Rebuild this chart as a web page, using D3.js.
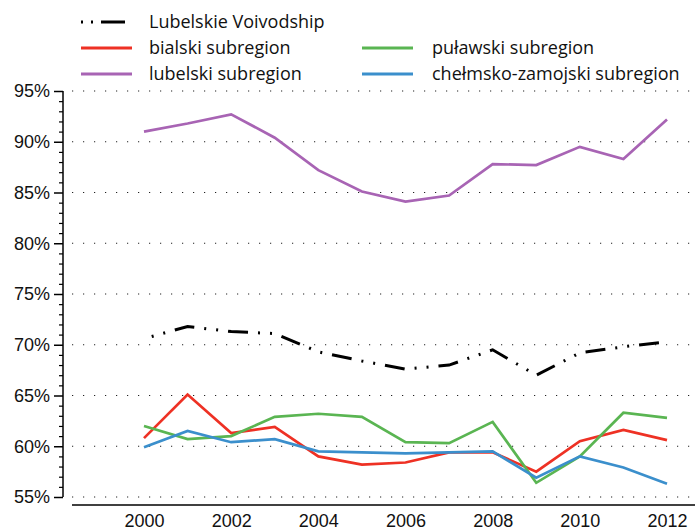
<!DOCTYPE html>
<html>
<head>
<meta charset="utf-8">
<script src="https://cdn.jsdelivr.net/npm/d3@7"></script>
<style>
  body { margin: 0; background: #fff; }
  svg { display: block; font-family: "Open Sans", sans-serif; }
</style>
</head>
<body>
<div id="chart"></div>
<script>
const years = [2000, 2001, 2002, 2003, 2004, 2005, 2006, 2007, 2008, 2009, 2010, 2011, 2012];
const yTicks = [55, 60, 65, 70, 75, 80, 85, 90, 95];
const xTicks = [2000, 2002, 2004, 2006, 2008, 2010, 2012];

const voivodship = [70.6, 71.8, 71.3, 71.1, 69.3, 68.4, 67.6, 68.0, 69.5, 67.0, 69.2, 69.8, 70.3];
const bialski = [60.8, 65.1, 61.3, 61.9, 59.0, 58.2, 58.4, 59.4, 59.4, 57.5, 60.5, 61.6, 60.6];
const lubelski = [91.0, 91.8, 92.7, 90.4, 87.2, 85.1, 84.1, 84.7, 87.8, 87.7, 89.5, 88.3, 92.2];
const pulawski = [62.0, 60.7, 61.0, 62.9, 63.2, 62.9, 60.4, 60.3, 62.4, 56.4, 59.0, 63.3, 62.8];
const chelmsko = [59.9, 61.5, 60.4, 60.7, 59.5, 59.4, 59.3, 59.4, 59.5, 56.9, 59.0, 57.9, 56.3];

const series = [
  { name: "bialski subregion", values: bialski, color: "#ee3124" },
  { name: "lubelski subregion", values: lubelski, color: "#a864b4" },
  { name: "puławski subregion", values: pulawski, color: "#5ab552" },
  { name: "chełmsko-zamojski subregion", values: chelmsko, color: "#3b8fcc" },
  { name: "Lubelskie Voivodship", values: voivodship, color: "#000", dash: "20,10,2,10,2,10" }
];

const width = 700, height = 529;
const svg = d3.select("#chart").append("svg")
  .attr("width", width).attr("height", height);

const x = d3.scaleLinear().domain([2000, 2012]).range([144, 667]);
const y = d3.scaleLinear().domain([55, 95]).range([497, 91]);

// grid
svg.append("g")
  .selectAll("line")
  .data(yTicks)
  .join("line")
  .attr("x1", 72).attr("x2", 692)
  .attr("y1", d => y(d)).attr("y2", d => y(d))
  .attr("stroke", "#222")
  .attr("stroke-width", 1.2)
  .attr("stroke-dasharray", "1.2,9.8");

// y axis, major + minor ticks
const yAxis = d3.axisLeft(y).tickValues(yTicks).tickFormat(d => d + "%").tickSize(9).tickPadding(4);
const yG = svg.append("g").attr("transform", "translate(63,0)").call(yAxis);
yG.select(".domain").attr("d", `M0,${y(95)}V${y(55)}`).attr("stroke-width", 1.5);
yG.selectAll(".tick line").attr("stroke-width", 1.5);
yG.selectAll("text").style("font-size", "18px").attr("fill", "#111");
svg.append("g").attr("transform", "translate(63,0)")
  .call(d3.axisLeft(y).tickValues(d3.range(55, 96, 1).filter(v => v % 5 !== 0)).tickSize(4).tickFormat(""))
  .call(g => g.select(".domain").remove())
  .selectAll(".tick line").attr("stroke-width", 1.2);

// x axis (no ticks)
const xAxis = d3.axisBottom(x).tickValues(xTicks).tickFormat(d3.format("d")).tickSize(0).tickPadding(9);
const xG = svg.append("g").attr("transform", "translate(0,505)").call(xAxis);
xG.select(".domain").attr("d", "M72,0H695").attr("stroke-width", 1.5);
xG.selectAll("text").style("font-size", "18px").attr("fill", "#111");

// lines
const line = d3.line().x((d, i) => x(years[i])).y(d => y(d));
svg.append("g")
  .selectAll("path")
  .data(series)
  .join("path")
  .attr("d", d => line(d.values))
  .attr("fill", "none")
  .attr("stroke", d => d.color)
  .attr("stroke-width", d => d.dash ? 3 : 2.7)
  .attr("stroke-dasharray", d => d.dash || null)
  .attr("stroke-dashoffset", d => d.dash ? -32 : null);

// legend
const legendItems = [
  { s: series[4], col: 0, row: 0 },
  { s: series[0], col: 0, row: 1 },
  { s: series[1], col: 0, row: 2 },
  { s: series[2], col: 1, row: 1 },
  { s: series[3], col: 1, row: 2 }
];
const lg = svg.append("g").selectAll("g")
  .data(legendItems)
  .join("g")
  .attr("transform", d => `translate(${d.col ? 362 : 81},${22 + d.row * 26})`);
lg.append("line")
  .attr("x1", 0).attr("x2", d => d.s.dash ? 44 : 51)
  .attr("stroke", d => d.s.color)
  .attr("stroke-width", 3)
  .attr("stroke-dasharray", d => d.s.dash ? "2,8,2,8,24,20" : null);
lg.append("text")
  .attr("x", d => d.col ? 70 : 68)
  .attr("dy", "0.35em")
  .style("font-size", "18px")
  .attr("fill", "#111")
  .text(d => d.s.name);
</script>
</body>
</html>
